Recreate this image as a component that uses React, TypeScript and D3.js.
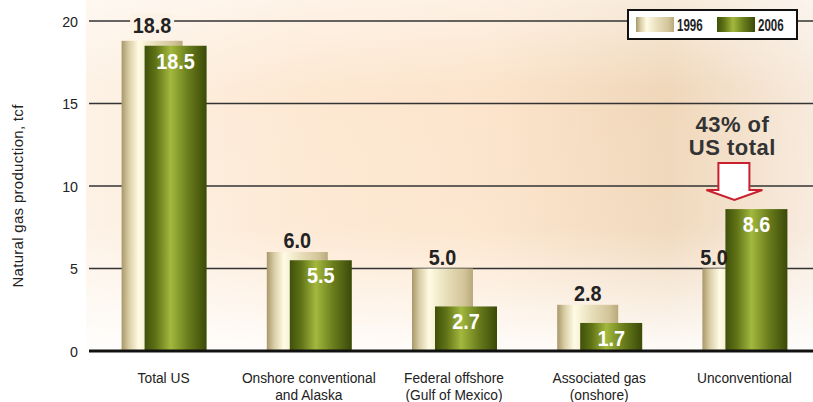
import React from "react";
import * as d3 from "d3";

const categories: string[][] = [
  ["Total US"],
  ["Onshore conventional", "and Alaska"],
  ["Federal offshore", "(Gulf of Mexico)"],
  ["Associated gas", "(onshore)"],
  ["Unconventional"],
];
const values1996: number[] = [18.8, 6.0, 5.0, 2.8, 5.0];
const values2006: number[] = [18.5, 5.5, 2.7, 1.7, 8.6];
const yTicks: number[] = [0, 5, 10, 15, 20];
const seriesNames: string[] = ["1996", "2006"];
const yTitle = "Natural gas production, tcf";
const annotation: string[] = ["43% of", "US total"];

const W = 813;
const H = 402;
const SANS = "'Liberation Sans', Arial, Helvetica, sans-serif";

type STextProps = {
  x: number;
  y: number;
  sx?: number;
  size: number;
  bold?: boolean;
  anchor?: "start" | "middle" | "end";
  fill?: string;
  children: React.ReactNode;
};

function SText({ x, y, sx = 1, size, bold, anchor = "start", fill = "#222", children }: STextProps) {
  return (
    <text
      transform={`translate(${x},${y}) scale(${sx},1)`}
      textAnchor={anchor}
      fontFamily={SANS}
      fontSize={size}
      fontWeight={bold ? "bold" : "normal"}
      fill={fill}
    >
      {children}
    </text>
  );
}

export default function App() {
  const x = d3.scaleBand<number>().domain(d3.range(categories.length)).range([91, 817]);
  const y = d3.scaleLinear().domain([0, 20]).range([351, 21]);
  const barW = 61;
  const offset = 23;
  const grpW = barW + offset;
  const left = (i: number) => (x(i) as number) + x.bandwidth() / 2 - grpW / 2;

  const last = categories.length - 1;
  const annX = (x(last) as number) + x.bandwidth() / 2 - 10;
  const labelSize = 22;

  return (
    <svg width={W} height={H} style={{ position: "absolute", left: 0, top: 0 }}>
      <defs>
        <linearGradient id="bgH" x1="0" x2="1" y1="0" y2="0">
          <stop offset="0%" stopColor="#fdf1e4" />
          <stop offset="30%" stopColor="#fde7d0" />
          <stop offset="55%" stopColor="#fce3c9" />
          <stop offset="80%" stopColor="#efd5b6" />
          <stop offset="100%" stopColor="#f7e9db" />
        </linearGradient>
        <linearGradient id="bgV" x1="0" x2="0" y1="0" y2="1">
          <stop offset="0%" stopColor="#ffffff" stopOpacity="0.5" />
          <stop offset="25%" stopColor="#ffffff" stopOpacity="0.05" />
          <stop offset="65%" stopColor="#ffffff" stopOpacity="0.1" />
          <stop offset="100%" stopColor="#ffffff" stopOpacity="0.9" />
        </linearGradient>
        <linearGradient id="g1996" x1="0" x2="1" y1="0" y2="0">
          <stop offset="0%" stopColor="#a8976a" />
          <stop offset="12%" stopColor="#d9cda5" />
          <stop offset="28%" stopColor="#fffbe4" />
          <stop offset="55%" stopColor="#e8dfbb" />
          <stop offset="85%" stopColor="#d3c59a" />
          <stop offset="100%" stopColor="#b9a97c" />
        </linearGradient>
        <linearGradient id="g2006" x1="0" x2="1" y1="0" y2="0">
          <stop offset="0%" stopColor="#3f500a" />
          <stop offset="18%" stopColor="#5f7216" />
          <stop offset="42%" stopColor="#a3b83e" />
          <stop offset="70%" stopColor="#6a7d1c" />
          <stop offset="100%" stopColor="#3a4a08" />
        </linearGradient>
      </defs>

      <rect x={86} y={0} width={W - 86} height={351} fill="url(#bgH)" />
      <rect x={86} y={0} width={W - 86} height={351} fill="url(#bgV)" />

      {/* gridlines */}
      {yTicks.filter((t) => t > 0).map((t) => (
        <line key={t} x1={89} x2={W} y1={y(t)} y2={y(t)} stroke="#333" strokeWidth={1.3} />
      ))}
      {yTicks.map((t) => (
        <SText key={"t" + t} x={78} y={y(t) + 5.5} size={15.5} sx={0.92} anchor="end">
          {t}
        </SText>
      ))}
      <text
        transform={`translate(23,${(y(0) + y(20)) / 2 + 10}) rotate(-90)`}
        textAnchor="middle"
        fontFamily={SANS}
        fontSize={15}
        letterSpacing={0.3}
        fill="#222"
      >
        {yTitle}
      </text>

      {/* bars */}
      {values1996.map((v, i) => (
        <rect key={"a" + i} x={left(i)} y={y(v)} width={barW} height={y(0) - y(v)} fill="url(#g1996)" />
      ))}
      {values2006.map((v, i) => (
        <rect key={"b" + i} x={left(i) + offset} y={y(v)} width={barW + 1} height={y(0) - y(v)} fill="url(#g2006)" />
      ))}

      {/* 1996 labels */}
      {values1996.map((v, i) => {
        let cx = left(i) + barW / 2;
        if (values2006[i] > v) cx = left(i) + offset / 2;
        const by = y(v) - (v > 15 ? 8 : 4);
        const top = by - labelSize * 0.75;
        const crosses = yTicks.some((t) => y(t) > top - 2 && y(t) < by + 2);
        return (
          <g key={"la" + i}>
            {crosses && <rect x={cx - 22} y={top - 3} width={44} height={by - top + 5} fill="#fdf2e6" />}
            <SText x={cx} y={by} size={labelSize} sx={0.9} bold anchor="middle" fill="#222">
              {v.toFixed(1)}
            </SText>
          </g>
        );
      })}
      {values2006.map((v, i) => (
        <SText key={"lb" + i} x={left(i) + offset + barW / 2 + 0.5} y={y(v) + 23} size={labelSize} sx={0.9} bold anchor="middle" fill="#ffffff">
          {v.toFixed(1)}
        </SText>
      ))}

      {/* zero axis */}
      <line x1={89} x2={W} y1={y(0)} y2={y(0)} stroke="#111" strokeWidth={3} />

      {/* category labels */}
      {categories.map((lines, i) =>
        lines.map((l, j) => (
          <SText key={"c" + i + "_" + j} x={(x(i) as number) + x.bandwidth() / 2} y={383 + j * 17} size={14.5} sx={0.95} anchor="middle">
            {l}
          </SText>
        ))
      )}

      {/* annotation */}
      {annotation.map((l, j) => (
        <text
          key={"an" + j}
          x={annX - 2}
          y={132 + j * 23}
          textAnchor="middle"
          fontFamily={SANS}
          fontWeight="bold"
          fontSize={22}
          letterSpacing={0.5}
          fill="#333"
        >
          {l}
        </text>
      ))}
      <path
        d={`M${annX - 16},163 H${annX + 15} V190 H${annX + 28} L${annX},200 L${annX - 28},190 H${annX - 16} Z`}
        fill="#ffffff"
        stroke="#c8202f"
        strokeWidth={2}
        strokeLinejoin="miter"
      />

      {/* legend */}
      <rect x={628} y={10} width={169} height={29} fill="#ffffff" stroke="#111" strokeWidth={2} />
      <rect x={636} y={17} width={38} height={15} fill="url(#g1996)" />
      <SText x={677} y={30.5} size={16.5} sx={0.7} bold>
        {seriesNames[0]}
      </SText>
      <rect x={717} y={17} width={38} height={15} fill="url(#g2006)" />
      <SText x={758} y={30.5} size={16.5} sx={0.7} bold>
        {seriesNames[1]}
      </SText>
    </svg>
  );
}
